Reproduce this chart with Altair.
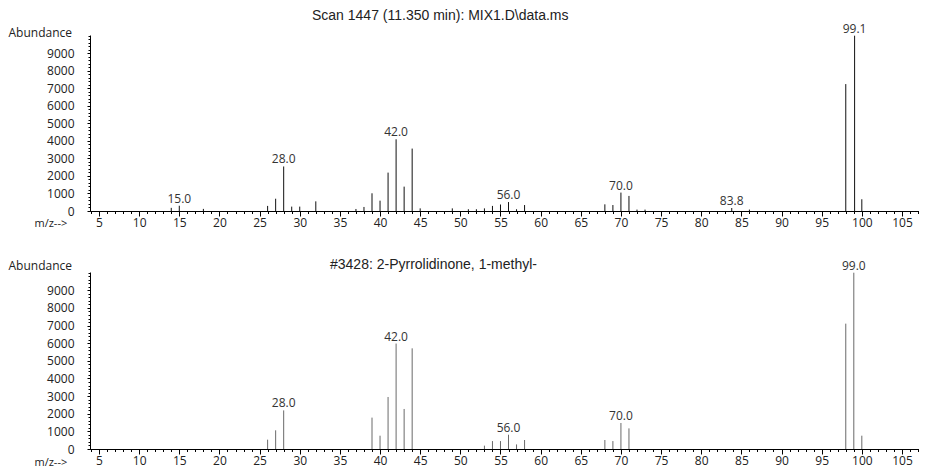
import altair as alt
import pandas as pd

# ---- data ----
scan_title = "Scan 1447 (11.350 min): MIX1.D\\data.ms"
scan_mz = [14, 15, 18, 26, 27, 28, 29, 30, 32, 37, 38, 39, 40, 41, 42, 43, 44, 45,
           49, 51, 52, 53, 54, 55, 56, 57, 58, 68, 69, 70, 71, 72, 73, 83.8, 86,
           98, 99.1, 100]
scan_ab = [180, 300, 120, 290, 700, 2540, 250, 250, 550, 115, 230, 1010, 590, 2190,
           4090, 1390, 3560, 150, 150, 100, 100, 150, 290, 370, 510, 100, 340, 380,
           340, 1050, 860, 80, 80, 170, 80, 7240, 10000, 670]
scan_labels = [15.0, 28.0, 42.0, 56.0, 70.0, 83.8, 99.1]

lib_title = "#3428: 2-Pyrrolidinone, 1-methyl-"
lib_mz = [26, 27, 28, 39, 40, 41, 42, 43, 44, 53, 54, 55, 56, 57, 58, 68, 69, 70,
          71, 98, 99, 100]
lib_ab = [530, 1060, 2190, 1780, 755, 2950, 5980, 2270, 5710, 190, 450, 450, 810,
          260, 510, 510, 450, 1475, 1170, 7110, 10000, 755]
lib_labels = [28.0, 42.0, 56.0, 70.0, 99.0]

x_major_ticks = list(range(5, 106, 5))
x_minor_ticks = list(range(4, 108))
y_major_ticks = list(range(0, 9001, 1000))
y_minor_ticks = list(range(0, 10001, 200))

X_DOMAIN = [3.88, 107.12]
Y_DOMAIN = [0, 10040]
LABEL_FONT = "Open Sans"
FS = 12


def panel(mz, ab, labels, title, color, height, title_dx, title_offset,
          ytitle_y, xtitle_y, xtitle_x):
    df = pd.DataFrame({"mz": mz, "ab": ab})
    df["label"] = [f"{m:.1f}" if any(abs(m - l) < 0.05 for l in labels) else ""
                   for m in mz]
    xs = alt.Scale(domain=X_DOMAIN, nice=False, zero=False)
    ys = alt.Scale(domain=Y_DOMAIN, nice=False, zero=False)

    x_major = alt.X("mz:Q", scale=xs, axis=alt.Axis(
        orient="bottom", values=x_major_ticks, tickSize=5, labelPadding=1,
        labelOverlap=False, labelFlush=False, grid=False,
        title="m/z-->", titleAngle=0, titleAlign="left", titleBaseline="middle",
        titleFontSize=11, titleX=xtitle_x, titleY=xtitle_y))
    y_major = alt.Y("ab:Q", scale=ys, axis=alt.Axis(
        orient="left", values=y_major_ticks, tickSize=3, labelPadding=13,
        labelOverlap=False, labelFlush=False, grid=False, format="d",
        title="Abundance", titleAngle=0, titleAlign="left", titleBaseline="middle",
        titleX=-82, titleY=ytitle_y))
    x_minor = alt.X("mz:Q", scale=xs, axis=alt.Axis(
        orient="bottom", values=x_minor_ticks, tickSize=2.5, labels=False,
        domain=False, grid=False, title=None))
    y_minor = alt.Y("ab:Q", scale=ys, axis=alt.Axis(
        orient="left", values=y_minor_ticks, tickSize=2, labels=False,
        domain=False, grid=False, title=None))

    rules = alt.Chart(df).mark_rule(color=color, strokeWidth=1).encode(
        x=x_major, y=y_major, y2=alt.datum(0))
    texts = alt.Chart(df[df["label"] != ""]).mark_text(
        baseline="bottom", dy=0, font=LABEL_FONT, fontSize=FS, color="#333333"
    ).encode(x=x_minor, y=y_minor, text="label:N")

    return alt.layer(rules, texts).resolve_axis(
        x="independent", y="independent"
    ).properties(
        width=829, height=height,
        title=alt.TitleParams(title, anchor="start", frame="group", dx=title_dx,
                              offset=title_offset),
    )


top = panel(scan_mz, scan_ab, scan_labels, scan_title, "#111111", 176,
            222, 0, -2.5, 12, -56)
bottom = panel(lib_mz, lib_ab, lib_labels, lib_title, "#6a6a6a", 177,
               240, -13, -7, 13.5, -56)

chart = alt.vconcat(top, bottom, spacing=30).properties(padding=0).configure_view(
    stroke=None
).configure_axis(
    labelFont=LABEL_FONT, labelFontSize=FS, labelColor="#222222",
    titleFont=LABEL_FONT, titleFontSize=FS, titleFontWeight="normal",
    titleColor="#222222", domainColor="#000000", tickColor="#000000",
    domainWidth=1, tickWidth=1,
).configure_title(
    font="Liberation Sans", fontSize=14, fontWeight="normal", color="#222222"
)

chart.save("out.html", embed_options={"renderer": "svg", "actions": False})
